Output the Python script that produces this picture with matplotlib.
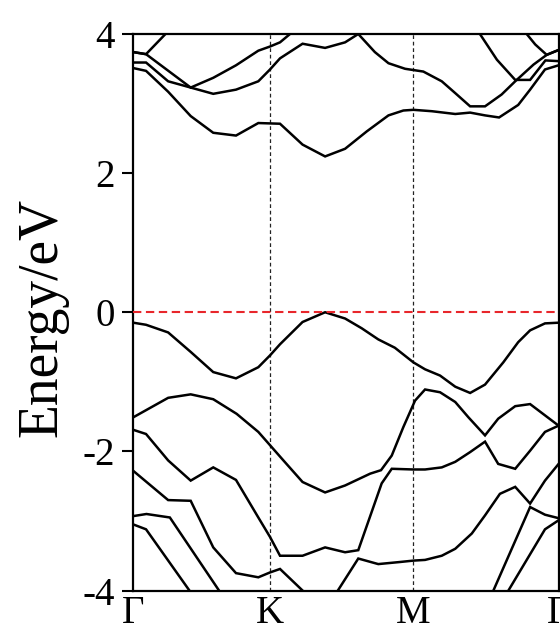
import matplotlib
matplotlib.use("Agg")
import matplotlib.pyplot as plt

# k-path (fraction of the path length) and high-symmetry points
kpath_ticks = [0.0, 0.3215, 0.6585, 1.0]
kpath_labels = ["Γ", "K", "M", "Γ"]

# conduction bands (eV)
cb1_k = [0, 0.030, 0.082, 0.135, 0.188, 0.2415, 0.294, 0.345, 0.398, 0.451, 0.498, 0.549,
         0.600, 0.635, 0.6585, 0.702, 0.757, 0.792, 0.827, 0.860, 0.905, 0.933, 0.968, 1.0]
cb1_E = [3.51, 3.47, 3.17, 2.82, 2.58, 2.54, 2.72, 2.71, 2.41, 2.24, 2.35, 2.60,
         2.83, 2.90, 2.91, 2.89, 2.85, 2.87, 2.83, 2.80, 2.98, 3.20, 3.49, 3.55]

cb2_k = [0, 0.030, 0.082, 0.135, 0.188, 0.2415, 0.294, 0.3215, 0.345, 0.398, 0.451, 0.498, 0.529,
         0.568, 0.600, 0.639, 0.682, 0.7253, 0.757, 0.792, 0.827, 0.866, 0.898, 0.941, 0.972, 1.0]
cb2_E = [3.59, 3.59, 3.32, 3.23, 3.14, 3.20, 3.32, 3.49, 3.65, 3.86, 3.80, 3.88, 4.00,
         3.74, 3.58, 3.50, 3.46, 3.32, 3.15, 2.96, 2.96, 3.13, 3.32, 3.56, 3.70, 3.77]

cb3_k = [0, 0.030, 0.135, 0.188, 0.2415, 0.294, 0.3215, 0.345, 0.3685]
cb3_E = [3.74, 3.71, 3.23, 3.37, 3.55, 3.76, 3.82, 3.88, 4.00]

cb4_k = [0, 0.030, 0.0757]
cb4_E = [3.74, 3.71, 4.00]

cb5_k = [0.815, 0.855, 0.898, 0.933, 0.969, 1.0]
cb5_E = [4.00, 3.63, 3.34, 3.34, 3.62, 3.61]

cb6_k = [0.925, 0.945, 0.972, 1.0]
cb6_E = [4.00, 3.85, 3.70, 3.77]

# valence bands (eV)
vb1_k = [0, 0.030, 0.082, 0.135, 0.188, 0.2415, 0.294, 0.3215, 0.345, 0.398, 0.451, 0.498, 0.537,
         0.576, 0.615, 0.6585, 0.686, 0.7213, 0.757, 0.792, 0.827, 0.870, 0.905, 0.933, 0.968, 1.0]
vb1_E = [-0.15, -0.18, -0.29, -0.57, -0.86, -0.95, -0.79, -0.62, -0.46, -0.14, 0.00, -0.09, -0.23,
         -0.39, -0.51, -0.72, -0.82, -0.91, -1.07, -1.16, -1.04, -0.72, -0.43, -0.26, -0.16, -0.15]

vb2_k = [0, 0.082, 0.135, 0.188, 0.243, 0.294, 0.353, 0.398, 0.451, 0.498, 0.557, 0.5825,
         0.6077, 0.635, 0.6625, 0.686, 0.7213, 0.757, 0.788, 0.827, 0.858, 0.898, 0.933, 1.0]
vb2_E = [-1.51, -1.23, -1.18, -1.25, -1.46, -1.72, -2.13, -2.44, -2.59, -2.49, -2.32, -2.27,
         -2.06, -1.65, -1.27, -1.11, -1.15, -1.29, -1.51, -1.77, -1.53, -1.35, -1.32, -1.63]

vb3_k = [0, 0.030, 0.082, 0.135, 0.188, 0.2415, 0.294, 0.3215, 0.345, 0.398, 0.451, 0.498, 0.529,
         0.584, 0.6077, 0.6585, 0.686, 0.7253, 0.757, 0.792, 0.827, 0.858, 0.898, 0.933, 0.968, 1.0]
vb3_E = [-1.69, -1.75, -2.13, -2.42, -2.23, -2.41, -2.95, -3.23, -3.50, -3.50, -3.38, -3.45, -3.42,
         -2.46, -2.25, -2.26, -2.26, -2.23, -2.15, -2.01, -1.86, -2.18, -2.25, -1.99, -1.72, -1.63]

vb4_k = [0, 0.082, 0.135, 0.188, 0.2415, 0.294, 0.3215, 0.345, 0.398]
vb4_E = [-2.28, -2.70, -2.71, -3.38, -3.75, -3.81, -3.74, -3.69, -4.00]

vb5_k = [0, 0.031, 0.086, 0.2016]
vb5_E = [-2.93, -2.90, -2.95, -4.00]

vb6_k = [0, 0.030, 0.132]
vb6_E = [-3.05, -3.12, -4.00]

vb7_k = [0.481, 0.529, 0.576, 0.627, 0.6585, 0.686, 0.7253, 0.757, 0.796, 0.827, 0.862,
         0.898, 0.933, 0.968, 1.0]
vb7_E = [-4.00, -3.54, -3.62, -3.59, -3.57, -3.56, -3.50, -3.40, -3.18, -2.92, -2.61,
         -2.51, -2.75, -2.42, -2.18]

vb8_k = [0.8467, 0.933, 0.968, 1.0]
vb8_E = [-4.00, -2.80, -2.91, -2.96]

vb9_k = [0.882, 0.968, 1.0]
vb9_E = [-4.00, -3.12, -2.99]

bands = [
    (cb1_k, cb1_E), (cb2_k, cb2_E), (cb3_k, cb3_E), (cb4_k, cb4_E), (cb5_k, cb5_E), (cb6_k, cb6_E),
    (vb1_k, vb1_E), (vb2_k, vb2_E), (vb3_k, vb3_E), (vb4_k, vb4_E), (vb5_k, vb5_E),
    (vb6_k, vb6_E), (vb7_k, vb7_E), (vb8_k, vb8_E), (vb9_k, vb9_E),
]

plt.rcParams['font.family'] = ['Liberation Serif', 'DejaVu Serif']

fig = plt.figure(figsize=(5.6, 6.33), dpi=100)
ax = fig.add_axes([0.238, 0.0671, 0.7595, 0.8792])

for k, e in bands:
    ax.plot(k, e, color='black', lw=1.8, solid_joinstyle='miter')

# high-symmetry guide lines and Fermi level
for kx in kpath_ticks[1:-1]:
    ax.axvline(kx, color='#222222', lw=0.9, ls=(0, (3, 2.2)), zorder=1)
ax.axhline(0, color='#e8262b', lw=1.5, ls=(0, (4, 2.2)), zorder=3)

ax.set_xlim(0, 1)
ax.set_ylim(-4, 4)
ax.set_yticks([-4, -2, 0, 2, 4])
ax.set_yticklabels(['-4', '-2', '0', '2', '4'])
ax.set_xticks(kpath_ticks)
ax.set_xticklabels(kpath_labels)

ax.tick_params(axis='y', direction='out', length=8, width=1.5, labelsize=28, pad=5)
ax.tick_params(axis='x', length=0, labelsize=28, pad=3)
for sp in ax.spines.values():
    sp.set_linewidth(1.6)

ax.set_ylabel('Energy/eV', fontsize=40)
ax.yaxis.set_label_coords(-0.153, 0.49)

fig.savefig('out.png', dpi=100)
